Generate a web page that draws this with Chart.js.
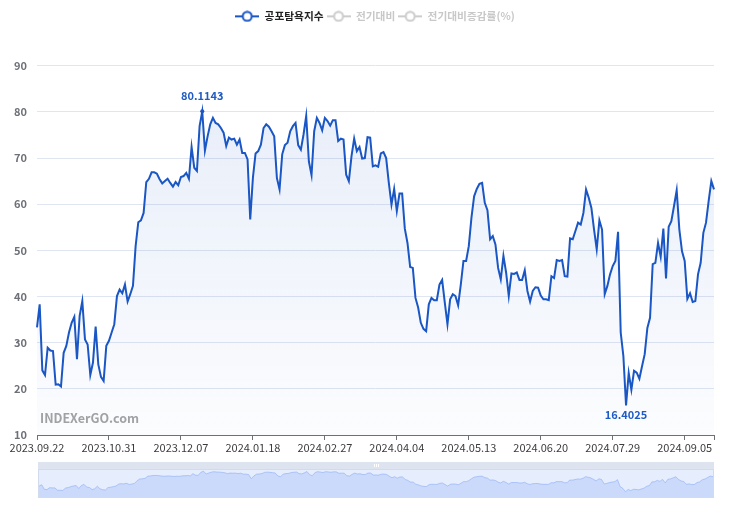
<!DOCTYPE html>
<html>
<head>
<meta charset="UTF-8">
<title>공포탐욕지수</title>
<style>
  body { margin: 0; background: #fff; }
  #wrap { position: relative; width: 731px; height: 508px; }
  #main { position: absolute; left: 0; top: 0; }
  #slider { position: absolute; left: 38px; top: 462px; }
</style>
</head>
<body>
<div id="wrap">
  <canvas id="main" width="731" height="508"></canvas>
  <canvas id="slider" width="676" height="36"></canvas>
</div>

<script src="https://cdn.jsdelivr.net/npm/chart.js"></script>
<script>
    // fear & greed index, one value per trading day (2023.09.22 ~ 2024.09.20)
    const fearGreed = [
        33.3, 38.3, 24.0, 23.0, 28.9, 28.3, 28.2, 20.9, 21.0, 20.5,
        27.8, 29.3, 32.2, 34.3, 35.6, 26.4, 35.8, 39.0, 30.7, 29.6,
        23.0, 25.7, 33.5, 25.3, 22.6, 21.7, 29.3, 30.4, 32.2, 34.0,
        40.1, 41.5, 40.7, 42.6, 38.9, 40.5, 42.3, 50.9, 56.1, 56.5,
        58.1, 64.8, 65.5, 66.9, 66.9, 66.6, 65.4, 64.5, 65.0, 65.5,
        64.6, 63.8, 64.8, 64.1, 65.9, 66.1, 66.8, 65.5, 72.4, 67.9,
        67.2, 76.9, 80.1143, 71.6, 74.7, 77.3, 78.7, 77.6, 77.3, 76.5,
        75.5, 72.6, 74.4, 74.0, 74.2, 72.9, 74.0, 71.1, 71.1, 69.7,
        56.7, 65.7, 71.0, 71.5, 72.9, 76.5, 77.3, 76.8, 75.8, 74.7,
        65.7, 63.2, 70.8, 72.8, 73.3, 75.8, 76.9, 77.6, 72.8, 71.8,
        75.1, 79.1, 69.3, 66.3, 75.8, 78.7, 77.6, 76.0, 78.7, 78.0,
        77.0, 78.2, 78.2, 73.7, 74.2, 74.0, 66.4, 65.0, 70.4, 74.2,
        71.5, 72.4, 69.9, 70.0, 74.5, 74.4, 68.2, 68.4,
        68.1, 71.0, 71.3, 70.0, 64.6, 59.9, 63.3, 58.5, 62.3, 62.3,
        54.7, 51.6, 46.4, 46.2, 39.7, 37.6, 34.3, 33.0, 32.5, 38.3,
        39.7, 39.2, 39.2, 42.6, 43.6, 38.7, 34.0, 39.4, 40.5, 40.1,
        38.1, 42.6, 47.7, 47.7, 50.9, 57.1, 61.7, 63.3, 64.4, 64.6,
        60.3, 58.7, 52.4, 53.1, 51.3, 46.2, 43.7, 48.8, 45.2, 40.1,
        45.0, 44.9, 45.2, 43.6, 43.6, 45.7, 41.2, 38.9, 41.2, 42.0,
        41.9, 40.2, 39.4, 39.4,
        39.2, 44.4, 44.0, 47.9, 47.7, 47.9, 44.4, 44.3, 52.6, 52.4,
        54.2, 56.0, 55.6, 58.1, 63.2, 61.4, 59.2, 54.5, 50.2, 56.5,
        54.5, 40.5, 42.3, 44.8, 46.6, 47.7, 54.0, 32.2, 27.1, 16.4025,
        23.4, 19.8, 23.9, 23.5, 22.2, 24.9, 27.5, 33.2, 35.4, 47.0,
        47.3, 51.6, 48.6, 54.7, 43.9, 55.1, 56.3, 59.6, 63.0, 54.5,
        49.8, 47.7, 39.5, 40.7, 38.8, 39.0, 44.8, 47.3, 53.8, 56.0,
        60.7, 65.0, 63.2
    ];

    // x axis labels, one every 27 trading days
    const tickLabels = ["2023.09.22", "2023.10.31", "2023.12.07", "2024.01.18", "2024.02.27",
                        "2024.04.04", "2024.05.13", "2024.06.20", "2024.07.29", "2024.09.05"];
    const tickStep = 27;

    const legendNames = ["공포탐욕지수", "전기대비", "전기대비증감률(%)"];

    const FONT = "'Noto Sans CJK KR', 'Noto Sans', sans-serif";
    const BLUE = "rgb(26, 86, 196)";

    const labels = fearGreed.map((v, i) => i);
    const maxIdx = fearGreed.indexOf(Math.max(...fearGreed));
    const minIdx = fearGreed.indexOf(Math.min(...fearGreed));

    // legend icon: line with a hollow circle
    function make_icon(color){
        const c = document.createElement("canvas");
        c.width = 24; c.height = 12;
        const g = c.getContext("2d");
        g.strokeStyle = color;
        g.lineWidth = 2;
        g.beginPath(); g.moveTo(0, 6); g.lineTo(24, 6); g.stroke();
        g.beginPath(); g.arc(12, 6, 4.5, 0, Math.PI * 2);
        g.fillStyle = "#fff"; g.fill(); g.stroke();
        return c;
    }
    const icons = [make_icon(BLUE), make_icon("#cccccc"), make_icon("#cccccc")];

    // push the plot below the legend, centre the legend like the original
    const legendSpace = {
        id: "legendSpace",
        beforeInit(chart){
            const orig = chart.legend.fit;
            chart.legend.fit = function(){
                orig.call(this);
                this.height += 34;
            };
        },
        afterLayout(chart){
            chart.legend.left += 18;
            chart.legend.right += 18;
        }
    };

    const marks = {
        id: "marks",
        beforeDatasetsDraw(chart){
            const ctx = chart.ctx;
            ctx.save();
            ctx.font = "bold 12.5px " + FONT;
            ctx.fillStyle = "#a3a3a3";
            ctx.textBaseline = "middle";
            ctx.fillText("INDEXerGO.com", 40, 418);
            ctx.restore();
        },
        afterDatasetsDraw(chart){
            const ctx = chart.ctx;
            const pts = chart.getDatasetMeta(0).data;
            ctx.save();
            ctx.font = "bold 11px " + FONT;
            ctx.fillStyle = "#1f5bc4";
            ctx.textAlign = "center";
            ctx.textBaseline = "middle";
            ctx.fillText(String(fearGreed[maxIdx]), pts[maxIdx].x, pts[maxIdx].y - 16);
            ctx.fillText(String(fearGreed[minIdx]), pts[minIdx].x, pts[minIdx].y + 9);
            ctx.restore();
        }
    };

    new Chart(document.getElementById("main"), {
        type: "line",
        data: {
            labels: labels,
            datasets: [{
                label: legendNames[0],
                data: fearGreed,
                borderColor: BLUE,
                borderWidth: 2,
                tension: 0,
                pointRadius: (c) => c.dataIndex === maxIdx ? 2 : 0,
                pointBackgroundColor: BLUE,
                pointBorderWidth: 0,
                fill: "start",
                backgroundColor: (c) => {
                    const area = c.chart.chartArea;
                    if (!area) return "rgba(26,86,196,0.06)";
                    const g = c.chart.ctx.createLinearGradient(0, area.top, 0, area.bottom);
                    g.addColorStop(0, "rgba(26,86,196,0.11)");
                    g.addColorStop(1, "rgba(26,86,196,0.015)");
                    return g;
                }
            }]
        },
        options: {
            responsive: false,
            animation: false,
            events: [],
            layout: { padding: { left: 0, right: 17, top: 8, bottom: 0 } },
            plugins: {
                tooltip: { enabled: false },
                legend: {
                    position: "top",
                    onClick: () => {},
                    labels: {
                        usePointStyle: true,
                        pointStyleWidth: 24,
                        boxHeight: 12,
                        padding: 3,
                        font: { family: FONT, size: 10.7, weight: "bold" },
                        generateLabels: () => legendNames.map((t, k) => ({
                            text: t,
                            fontColor: k === 0 ? "#222" : "#c8c8c8",
                            pointStyle: icons[k],
                            hidden: false,
                            lineWidth: 0,
                            strokeStyle: "transparent",
                            fillStyle: "transparent",
                            datasetIndex: k
                        }))
                    }
                }
            },
            scales: {
                x: {
                    type: "category",
                    offset: false,
                    afterFit: (s) => { s.height = 73; },
                    afterBuildTicks: (axis) => {
                        const t = tickLabels.map((l, k) => ({ value: k * tickStep }));
                        t.push({ value: fearGreed.length - 1 });
                        axis.ticks = t;
                    },
                    grid: { drawOnChartArea: false, drawTicks: true, tickLength: 5, color: "#6e7079" },
                    border: { display: true, color: "#6e7079", width: 1 },
                    ticks: {
                        autoSkip: false,
                        maxRotation: 0,
                        padding: 1,
                        color: "#3c3c3c",
                        font: { family: FONT, size: 11 },
                        callback: (v) => v % tickStep === 0 ? tickLabels[v / tickStep] : ""
                    }
                },
                y: {
                    min: 10,
                    max: 90,
                    afterFit: (s) => { s.width = 37; },
                    grid: { color: "#e0e6f1", drawTicks: false },
                    border: { display: false },
                    ticks: {
                        stepSize: 10,
                        padding: 10,
                        color: "#6e7079",
                        font: { family: FONT, size: 11, weight: "bold" }
                    }
                }
            }
        },
        plugins: [legendSpace, marks]
    });

    // data zoom strip under the chart
    const sliderBack = {
        id: "sliderBack",
        beforeDraw(chart){
            const ctx = chart.ctx;
            const w = chart.width, h = chart.height;
            ctx.save();
            ctx.fillStyle = "#dde3ef";
            ctx.fillRect(0, 0, w, 7);
            ctx.fillStyle = "#e6edfc";
            ctx.fillRect(0, 7, w, h - 7);
            ctx.strokeStyle = "#d2dbee";
            ctx.lineWidth = 1;
            ctx.strokeRect(0.5, 7.5, w - 1, h - 8);
            ctx.fillStyle = "#ffffff";
            for (let k = -1; k <= 1; k++) ctx.fillRect(w / 2 + k * 2, 2, 1, 3);
            ctx.restore();
        }
    };

    new Chart(document.getElementById("slider"), {
        type: "line",
        data: {
            labels: labels,
            datasets: [{
                data: fearGreed,
                borderColor: "rgba(143,176,247,0.8)",
                borderWidth: 0.8,
                pointRadius: 0,
                tension: 0,
                fill: "start",
                backgroundColor: "rgba(143,176,247,0.3)"
            }]
        },
        options: {
            responsive: false,
            animation: false,
            events: [],
            layout: { padding: { top: 8, bottom: 1, left: 1, right: 1 } },
            plugins: { legend: { display: false }, tooltip: { enabled: false } },
            scales: {
                x: { display: false, offset: false },
                y: { display: false, min: 0, max: 84 }
            }
        },
        plugins: [sliderBack]
    });
</script>
</body>
</html>
